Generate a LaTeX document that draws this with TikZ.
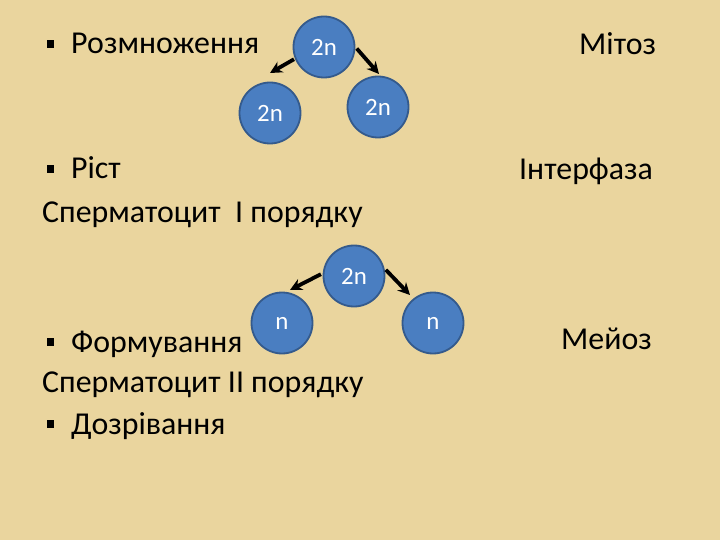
\documentclass[tikz,border=0pt]{standalone}
\usepackage{fontspec}
\setmainfont{Carlito}
\usetikzlibrary{arrows.meta}
\definecolor{bgtan}{RGB}{234,213,158}
\definecolor{cellfill}{RGB}{74,126,193}
\definecolor{celldraw}{RGB}{52,90,140}
\tikzset{
  txt/.style={anchor=base west, inner sep=0pt, font=\fontsize{32}{38}\selectfont, text=black},
  bul/.style={fill=black, minimum size=7.5bp, inner sep=0pt, draw=none},
  cell/.style={circle, fill=cellfill, draw=celldraw, line width=1.8bp, minimum size=61bp, inner sep=0pt, text=white, font=\fontsize{25}{30}\selectfont},
  arr/.style={-{Stealth[length=12bp,width=12bp]}, line width=3.8bp, black},
}
\begin{document}
\begin{tikzpicture}[x=1bp,y=-1bp]
\fill[bgtan] (0,0) rectangle (720,540);
\useasboundingbox (0,0) rectangle (720,540);

% text
\node[bul] (b1) at (50.5,44) {};
\node[txt] (t1) at (71,54) {Розмноження};
\node[txt] (mit) at (579,55) {Мітоз};
\node[bul] (b2) at (50.5,169) {};
\node[txt] (t2) at (71,179) {Ріст};
\node[txt] (int) at (519,180) {Інтерфаза};
\node[txt] (s1) at (42,223) {Сперматоцит\ \ I порядку};
\node[bul] (b3) at (50.5,342) {};
\node[txt] (t3) at (71,352) {Формування};
\node[txt] (mei) at (561,349) {Мейоз};
\node[txt] (s2) at (42,392) {Сперматоцит II порядку};
\node[bul] (b4) at (50.5,424) {};
\node[txt] (t4) at (71,434) {Дозрівання};

% mitosis circles
\node[cell] (c1) at (324,47) {2n};
\node[cell] (c2) at (270,113) {2n};
\node[cell] (c3) at (378,107) {2n};
\coordinate (e1) at (270,73);
\coordinate (e2) at (379,74);
\draw[arr, shorten <=1bp] (c1.202) -- (e1);
\draw[arr, shorten <=2bp] (c1.0) -- (e2);

% meiosis circles
\node[cell] (m1) at (354,276) {2n};
\node[cell] (m2) at (282,323) {n};
\node[cell] (m3) at (433,323) {n};
\coordinate (f1) at (290,290);
\coordinate (f2) at (410,295);
\draw[arr, shorten <=2bp] (m1.175) -- (f1);
\draw[arr, shorten <=2bp] (m1.14) -- (f2);
\end{tikzpicture}
\end{document}
